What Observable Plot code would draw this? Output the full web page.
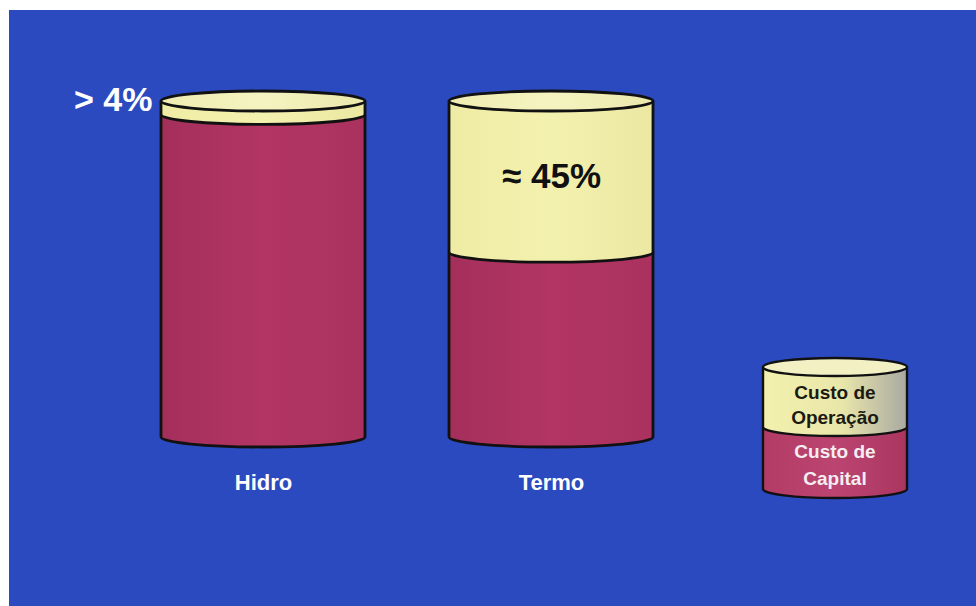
<!DOCTYPE html>
<html>
<head>
<meta charset="utf-8">
<script src="https://cdn.jsdelivr.net/npm/d3@7"></script>
<script src="https://cdn.jsdelivr.net/npm/@observablehq/plot@0.6"></script>
<style>
  html, body { margin: 0; padding: 0; background: #ffffff; overflow: hidden; }
  #chart svg { display: block; margin: 10px 0 0 9px; }
</style>
</head>
<body>
<div id="chart"></div>
<script>
// ---- data ----
const categories = ["Hidro", "Termo"];
const components = ["Custo de Capital", "Custo de Operação"];
const capital = [96, 55];      // % of total cost
const operacao = [4, 45];      // % of total cost
const valueLabels = ["> 4%", "≈ 45%"];
const legendTop = ["Custo de", "Operação"];
const legendBottom = ["Custo de", "Capital"];

// ---- styles ----
const BLUE = "#2c4abf";
const INK = "#111111";
const FONT = "'Liberation Sans', Arial, sans-serif";

const data = categories.flatMap((c, i) => [
  {cat: c, comp: components[0], value: capital[i]},
  {cat: c, comp: components[1], value: operacao[i]}
]);
const totals = categories.map((c, i) => ({cat: c, total: capital[i] + operacao[i], base: capital[i], mid: capital[i] + operacao[i] / 2}));

function defsMark() {
  const g = d3.create("svg:g");
  const defs = g.append("defs");
  const grad = (id, stops) => {
    const lg = defs.append("linearGradient").attr("id", id).attr("x1", 0).attr("x2", 1).attr("y1", 0).attr("y2", 0);
    stops.forEach(([o, c]) => lg.append("stop").attr("offset", o).attr("stop-color", c));
  };
  grad("gCap", [[0, "#a42f5b"], [0.5, "#b23564"], [1, "#aa325f"]]);
  grad("gOp", [[0, "#eeeca4"], [0.5, "#f3f1ae"], [1, "#ebe8a2"]]);
  grad("gTop", [[0, "#efedb2"], [0.5, "#f5f3c0"], [1, "#ecE9ac"]]);
  grad("gLegOp", [[0, "#f3f1ad"], [0.55, "#e9e6aa"], [1, "#a9a9a2"]]);
  grad("gLegCap", [[0, "#b33c66"], [0.5, "#bb4570"], [1, "#aa3660"]]);
  return g.node();
}

function cylinderMark(index, scales, values, dimensions) {
  const x = scales.x, y = scales.y;
  const bw = x.bandwidth();
  const ry = 10;
  const g = d3.create("svg:g");
  totals.forEach(t => {
    const left = x(t.cat), right = left + bw, rx = bw / 2, cx = left + rx;
    const y0 = y(0), yb = y(t.base), yt = y(t.total);
    g.append("path").attr("d", `M${left},${y0} A${rx},${ry} 0 0 0 ${right},${y0} Z`).attr("fill", "url(#gCap)");
    g.append("path").attr("d", `M${left},${yb - 1} L${left},${yb} A${rx},${ry} 0 0 0 ${right},${yb} L${right},${yb - 1} Z`).attr("fill", "url(#gOp)");
    const o = g.append("g").attr("fill", "none").attr("stroke", INK).attr("stroke-width", 2.8);
    o.append("path").attr("d", `M${left},${yt} L${left},${y0} A${rx},${ry} 0 0 0 ${right},${y0} L${right},${yt}`);
    o.append("path").attr("d", `M${left},${yb} A${rx},${ry} 0 0 0 ${right},${yb}`);
    g.append("ellipse").attr("cx", cx).attr("cy", yt).attr("rx", rx).attr("ry", ry)
      .attr("fill", "url(#gTop)").attr("stroke", INK).attr("stroke-width", 2.8);
  });

  // legend cylinder (layout only)
  const L = {left: dimensions.width - 213, right: dimensions.width - 69, top: 357, mid: 417, bottom: 479, ry: 9};
  const lrx = (L.right - L.left) / 2, lcx = L.left + lrx;
  const lg = g.append("g");
  lg.append("path").attr("d", `M${L.left},${L.mid} L${L.left},${L.bottom} A${lrx},${L.ry} 0 0 0 ${L.right},${L.bottom} L${L.right},${L.mid} Z`).attr("fill", "url(#gLegCap)");
  lg.append("path").attr("d", `M${L.left},${L.top} L${L.left},${L.mid} A${lrx},${L.ry} 0 0 0 ${L.right},${L.mid} L${L.right},${L.top} Z`).attr("fill", "url(#gLegOp)");
  const lo = lg.append("g").attr("fill", "none").attr("stroke", INK).attr("stroke-width", 2.4);
  lo.append("path").attr("d", `M${L.left},${L.top} L${L.left},${L.bottom} A${lrx},${L.ry} 0 0 0 ${L.right},${L.bottom} L${L.right},${L.top}`);
  lo.append("path").attr("d", `M${L.left},${L.mid} A${lrx},${L.ry} 0 0 0 ${L.right},${L.mid}`);
  lg.append("ellipse").attr("cx", lcx).attr("cy", L.top).attr("rx", lrx).attr("ry", L.ry)
    .attr("fill", "#f3f1c4").attr("stroke", INK).attr("stroke-width", 2.4);
  const txt = lg.append("g").attr("text-anchor", "middle").attr("font-family", FONT).attr("font-weight", "bold").attr("font-size", 19);
  legendTop.forEach((s, i) => txt.append("text").attr("x", lcx).attr("y", 389 + i * 25).attr("fill", "#1a1a12").text(s));
  legendBottom.forEach((s, i) => txt.append("text").attr("x", lcx).attr("y", 448 + i * 27).attr("fill", "#f4eef2").text(s));
  return g.node();
}

const chart = Plot.plot({
  width: 967,
  height: 596,
  margin: 0,
  style: {background: BLUE, fontFamily: FONT, overflow: "visible"},
  x: {type: "band", domain: categories, range: [67, 729], padding: 0.2907, axis: null},
  y: {domain: [0, 100], range: [427, 91], axis: null},
  color: {domain: components, range: ["url(#gCap)", "url(#gOp)"]},
  marks: [
    defsMark,
    Plot.barY(data, {x: "cat", y: "value", fill: "comp", inset: 0}),
    cylinderMark,
    Plot.text(totals.slice(0, 1), {x: "cat", y: "total", text: () => valueLabels[0], textAnchor: "end", dx: -111, dy: -1, fill: "#ffffff", fontSize: 34, fontWeight: "bold"}),
    Plot.text(totals.slice(1, 2), {x: "cat", y: "mid", text: () => valueLabels[1], dy: 0, fill: "#111111", fontSize: 35, fontWeight: "bold"}),
    Plot.text(totals, {x: "cat", y: () => 0, text: "cat", dy: 45, fill: "#ffffff", fontSize: 22, fontWeight: "bold"})
  ]
});
document.getElementById("chart").appendChild(chart);
</script>
</body>
</html>
